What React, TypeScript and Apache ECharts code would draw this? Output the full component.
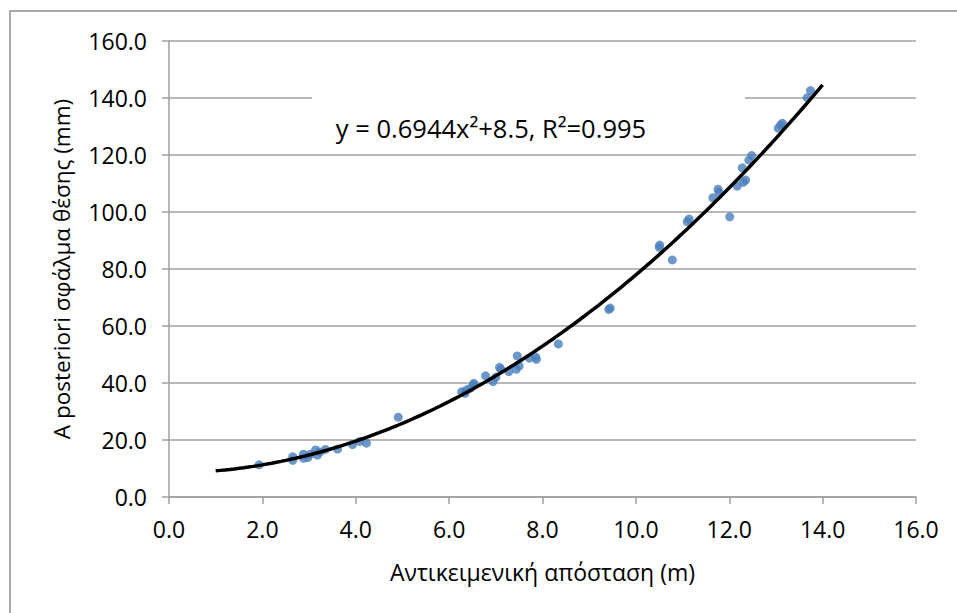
import React, { useEffect, useRef } from "react";
import * as echarts from "echarts";

const xTicks = [0, 2, 4, 6, 8, 10, 12, 14, 16];
const yTicks = [0, 20, 40, 60, 80, 100, 120, 140, 160];

const distances = [
  1.93, 2.65, 2.65, 2.88, 2.88, 2.97, 3.03, 3.14, 3.18, 3.23, 3.35, 3.61, 3.93, 4.08, 4.23, 4.91,
  6.27, 6.34, 6.37, 6.45, 6.52, 6.53, 6.78, 6.94, 7.0, 7.08, 7.11, 7.28, 7.44, 7.46, 7.5, 7.72,
  7.85, 7.87, 8.34, 9.42, 9.45, 10.5, 10.51, 10.78, 11.1, 11.14, 11.65, 11.76, 11.78, 12.01,
  12.17, 12.28, 12.3, 12.35, 12.42, 12.48, 13.05, 13.1, 13.14, 13.67, 13.74,
];
const errors = [
  11.3, 14.1, 12.9, 15.0, 13.6, 13.8, 15.0, 16.5, 14.7, 15.8, 16.7, 16.8, 18.4, 19.5, 18.9, 28.0,
  36.9, 36.4, 37.5, 38.1, 39.3, 39.9, 42.5, 40.5, 42.0, 45.5, 44.8, 44.0, 44.8, 49.5, 46.0, 48.7,
  49.2, 48.3, 53.7, 65.8, 66.3, 87.6, 88.4, 83.2, 96.6, 97.5, 105.0, 108.0, 106.9, 98.3,
  109.1, 115.5, 110.4, 111.2, 118.2, 119.8, 129.4, 130.5, 131.1, 140.1, 142.6,
];

const fitA = 0.6944;
const fitC = 8.5;
const fitFrom = 1;
const fitTo = 14;
const fitLabel = "y = 0.6944x²+8.5, R²=0.995";

const FONT = "Open Sans";

export default function App() {
  const ref = useRef<HTMLDivElement>(null);
  useEffect(() => {
    if (!ref.current) return;
    document.body.style.margin = "0";
    const chart = echarts.init(ref.current, null, { renderer: "svg" });
    const points = distances.map((d, i) => [d, errors[i]]);
    const curve: number[][] = [];
    for (let k = 0; k <= 130; k++) {
      const x = fitFrom + ((fitTo - fitFrom) * k) / 130;
      curve.push([x, fitA * x * x + fitC]);
    }
    const grey = "#a0a0a0";
    chart.setOption({
      animation: false,
      backgroundColor: "#ffffff",
      textStyle: { fontFamily: FONT },
      grid: { left: 169, right: 41, top: 41, bottom: 116 },
      xAxis: {
        type: "value",
        min: 0,
        max: 16,
        interval: 2,
        name: "Αντικειμενική απόσταση (m)",
        nameLocation: "middle",
        nameGap: 63,
        nameTextStyle: { fontFamily: FONT, fontSize: 23, color: "#000" },
        axisLine: { show: true, onZero: false, lineStyle: { color: grey, width: 1.5 } },
        axisTick: { show: true, length: 7, lineStyle: { color: grey, width: 1.5 } },
        axisLabel: {
          margin: 20,
          fontFamily: FONT,
          fontSize: 23,
          color: "#000",
          formatter: (v: number) => (xTicks.includes(v) ? v.toFixed(1) : ""),
        },
        splitLine: { show: false },
      },
      yAxis: {
        type: "value",
        min: 0,
        max: 160,
        interval: 20,
        name: "A posteriori σφάλμα θέσης (mm)",
        nameLocation: "middle",
        nameGap: 96,
        nameTextStyle: { fontFamily: FONT, fontSize: 22.5, color: "#000" },
        axisLine: { show: true, lineStyle: { color: grey, width: 1.5 } },
        axisTick: { show: true, length: 7, lineStyle: { color: grey, width: 1.5 } },
        axisLabel: {
          margin: 22,
          fontFamily: FONT,
          fontSize: 23,
          color: "#000",
          formatter: (v: number) => (yTicks.includes(v) ? v.toFixed(1) : ""),
        },
        splitLine: { show: true, lineStyle: { color: grey, width: 1.5 } },
      },
      graphic: [
        {
          type: "rect",
          shape: { x: 10, y: 11, width: 1000, height: 700 },
          style: { fill: "none", stroke: "#8c8c8c", lineWidth: 1.5 },
          silent: true,
          z: -10,
        },
        {
          type: "rect",
          shape: { x: 312, y: 96, width: 433, height: 52 },
          style: { fill: "#ffffff" },
          silent: true,
          z: 5,
        },
        {
          type: "text",
          x: 491,
          y: 128,
          style: {
            text: fitLabel,
            fontFamily: FONT,
            fontSize: 25.5,
            fill: "#000",
            align: "center",
            verticalAlign: "middle",
          },
          z: 6,
        },
      ],
      series: [
        {
          type: "scatter",
          data: points,
          symbol: "circle",
          symbolSize: 9,
          itemStyle: { color: "#4a7ebb" },
          z: 3,
        },
        {
          type: "line",
          data: curve,
          showSymbol: false,
          symbol: "none",
          smooth: false,
          lineStyle: { color: "#000000", width: 3.5 },
          z: 4,
        },
      ],
    });
    return () => chart.dispose();
  }, []);
  return <div ref={ref} style={{ width: 957, height: 613 }} />;
}
